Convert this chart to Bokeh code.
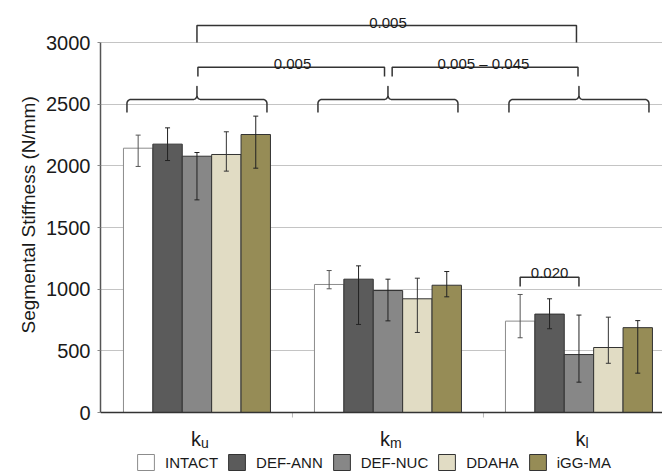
import numpy as np
from bokeh.plotting import figure
from bokeh.models import (Range1d, FixedTicker, Label, Legend, LegendItem, ColumnDataSource,
                          Span, Title)
from bokeh.embed import file_html
from bokeh.resources import INLINE

# ---------------- data ----------------
group_subs = ["u", "m", "l"]          # k_u, k_m, k_l
series = ["INTACT", "DEF-ANN", "DEF-NUC", "DDAHA", "iGG-MA"]

intact_mean = [2143, 1038, 741]
defann_mean = [2176, 1081, 798]
defnuc_mean = [2078, 989, 470]
ddaha_mean = [2092, 922, 527]
iggma_mean = [2254, 1032, 688]

intact_hi = [2249, 1151, 957]
defann_hi = [2308, 1189, 922]
defnuc_hi = [2108, 1081, 790]
ddaha_hi = [2276, 1089, 773]
iggma_hi = [2403, 1143, 745]

intact_lo = [1995, 1003, 606]
defann_lo = [2043, 714, 679]
defnuc_lo = [1724, 743, 246]
ddaha_lo = [1957, 649, 399]
iggma_lo = [1981, 938, 319]

y_ticks = [0, 500, 1000, 1500, 2000, 2500, 3000]
y_title = "Segmental Stiffness (N/mm)"

# significance annotations
p_all = "0.005"
p_um = "0.005"
p_ml = "0.005 \u2013 0.045"
p_l = "0.020"

means = [intact_mean, defann_mean, defnuc_mean, ddaha_mean, iggma_mean]
his = [intact_hi, defann_hi, defnuc_hi, ddaha_hi, iggma_hi]
los = [intact_lo, defann_lo, defnuc_lo, ddaha_lo, iggma_lo]

# ---------------- styles ----------------
FONT = "Liberation Sans"
fills = ["#ffffff", "#5b5b5b", "#878787", "#e1dcc4", "#968c56"]
outlines = ["#8c8c8c", "#333333", "#333333", "#333333", "#333333"]
err_cols = ["#555555", "#222222", "#222222", "#333333", "#222222"]

W, H = 662, 473
LEFT = 100
PX_X = 1.0 / 191.0          # data units per pixel (x)
PX_Y = 3000.0 / 370.0       # data units per pixel (y)
BAR_W = 29.4 * PX_X
offsets = [(i - 2) * BAR_W for i in range(5)]

x0 = -0.505
y_bottom = -(H - 412) * PX_Y
y_top = 3000 + 42 * PX_Y

p = figure(width=W, height=H,
           x_range=Range1d(x0, x0 + (W - LEFT) * PX_X), y_range=Range1d(y_bottom, y_top),
           output_backend="svg", toolbar_location=None, x_axis_type=None,
           min_border_left=LEFT, min_border_right=0, min_border_top=0, min_border_bottom=0)
p.outline_line_color = None
p.background_fill_color = "white"
p.border_fill_color = "white"

# y axis
p.yaxis.ticker = FixedTicker(ticks=y_ticks)
p.yaxis.bounds = (0, 3000)
p.yaxis.axis_line_color = "#555555"
p.yaxis.axis_line_width = 1.5
p.yaxis.major_tick_out = 3
p.yaxis.major_tick_in = 0
p.yaxis.minor_tick_line_color = None
p.yaxis.major_tick_line_color = "#888888"
p.yaxis.major_label_standoff = 7
p.yaxis.major_label_text_font = FONT
p.yaxis.major_label_text_font_size = "20px"
p.yaxis.major_label_text_color = "#1a1a1a"

# y-axis title placed as a vertical title so it can be positioned like the original
p.add_layout(Title(text=y_title, align="left", offset=140, standoff=10,
                   text_font=FONT, text_font_size="19px", text_font_style="normal",
                   text_color="#1a1a1a"), "left")

p.ygrid.ticker = FixedTicker(ticks=y_ticks)
p.ygrid.grid_line_color = "#c4c4c4"
p.ygrid.grid_line_width = 1
p.xgrid.visible = False

# bars
legend_items = []
for i, name in enumerate(series):
    xs = [g + offsets[i] for g in range(len(group_subs))]
    r = p.vbar(x=xs, top=means[i], width=BAR_W, fill_color=fills[i],
               line_color=outlines[i], line_width=1)
    legend_items.append(LegendItem(label=name, renderers=[r]))

# error bars
cap = 2.5 * PX_X
for i in range(5):
    xs = [g + offsets[i] for g in range(len(group_subs))]
    src = ColumnDataSource(dict(x=xs, lo=los[i], hi=his[i],
                                xl=[x - cap for x in xs], xr=[x + cap for x in xs]))
    p.segment(x0="x", y0="lo", x1="x", y1="hi", source=src, line_color=err_cols[i], line_width=1)
    p.segment(x0="xl", y0="hi", x1="xr", y1="hi", source=src, line_color=err_cols[i], line_width=1)
    p.segment(x0="xl", y0="lo", x1="xr", y1="lo", source=src, line_color=err_cols[i], line_width=1)

# category axis: baseline, boundary ticks, labels
p.add_layout(Span(location=0, dimension="width", line_color="#333333", line_width=1.5))
bounds = [g + 0.5 for g in range(len(group_subs) - 1)]
p.segment(x0=bounds, y0=[0] * len(bounds), x1=bounds, y1=[-5 * PX_Y] * len(bounds),
          line_color="#bbbbbb", line_width=1)

sub_w = {"u": 0.556, "m": 0.833, "l": 0.222}
for g, s in enumerate(group_subs):
    total = 0.5 * 20 + sub_w[s] * 14
    kr = g + (3 - total / 2 + 10) * PX_X
    p.add_layout(Label(x=kr, y=-211, text="k", text_align="right", text_baseline="alphabetic",
                       text_font=FONT, text_font_size="20px", text_color="#1a1a1a"))
    p.add_layout(Label(x=kr, y=-251, text=s, text_align="left", text_baseline="alphabetic",
                       text_font=FONT, text_font_size="14px", text_color="#1a1a1a"))


# curly braces over each group
def arc(cx, cy, t0, t1, n=8):
    t = np.linspace(t0, t1, n)
    return list(cx + 4 * PX_X * np.cos(t)), list(cy + 4 * PX_Y * np.sin(t))


def brace(cx, hw, y0, depth, peak):
    rx, ry = 4 * PX_X, 4 * PX_Y
    xs, ys = [cx - hw], [y0 - depth]
    ax, ay = arc(cx - hw + rx, y0 - ry, np.pi, np.pi / 2); xs += ax; ys += ay
    ax, ay = arc(cx - rx, y0 + ry, -np.pi / 2, 0); xs += ax; ys += ay
    xs.append(cx); ys.append(y0 + peak)
    ax, ay = arc(cx + rx, y0 + ry, np.pi, 1.5 * np.pi); xs += ax; ys += ay
    ax, ay = arc(cx + hw - rx, y0 - ry, np.pi / 2, 0); xs += ax; ys += ay
    xs.append(cx + hw); ys.append(y0 - depth)
    return xs, ys


BRACE_Y = 2538
bx, by = [], []
for g in range(3):
    xs, ys = brace(g, 70 * PX_X, BRACE_Y, 13 * PX_Y, 13 * PX_Y)
    bx.append(xs); by.append(ys)
p.multi_line(bx, by, line_color="#333333", line_width=1.5, line_join="round")

# comparison brackets
top_y, mid_y, low_y = 3138, 2800, 1097
tick_mid = 2724
kl_a, kl_b = 2 + offsets[0], 2 + offsets[2]
bracket_x = [
    [0, 0, 2 - 0.013, 2 - 0.013],
    [0.005, 0.005, 1 - 0.018, 1 - 0.018],
    [1 + 0.022, 1 + 0.022, 2 - 0.005, 2 - 0.005],
    [kl_a, kl_a, kl_b, kl_b],
]
bracket_y = [
    [3000, top_y, top_y, 3000],
    [tick_mid, mid_y, mid_y, tick_mid],
    [tick_mid, mid_y, mid_y, tick_mid],
    [low_y - 76, low_y, low_y, low_y - 76],
]
p.multi_line(bracket_x, bracket_y, line_color="#333333", line_width=1.5)

for x, y, t in [(1.0, 3157, p_all), (0.5, 2827, p_um), (1.5, 2827, p_ml),
                ((kl_a + kl_b) / 2, 1130, p_l)]:
    p.add_layout(Label(x=x, y=y, text=t, text_align="center", text_baseline="alphabetic",
                       text_font=FONT, text_font_size="15px", text_color="#1a1a1a"))

legend = Legend(items=legend_items, orientation="horizontal", location=(35, 1),
                glyph_width=21, glyph_height=20, label_standoff=9, spacing=8,
                padding=0, margin=0, border_line_color=None, background_fill_alpha=0,
                label_text_font=FONT, label_text_font_size="15px", label_height=20,
                label_text_color="#1a1a1a")
p.add_layout(legend)

open("out.html", "w").write(file_html(p, INLINE))
